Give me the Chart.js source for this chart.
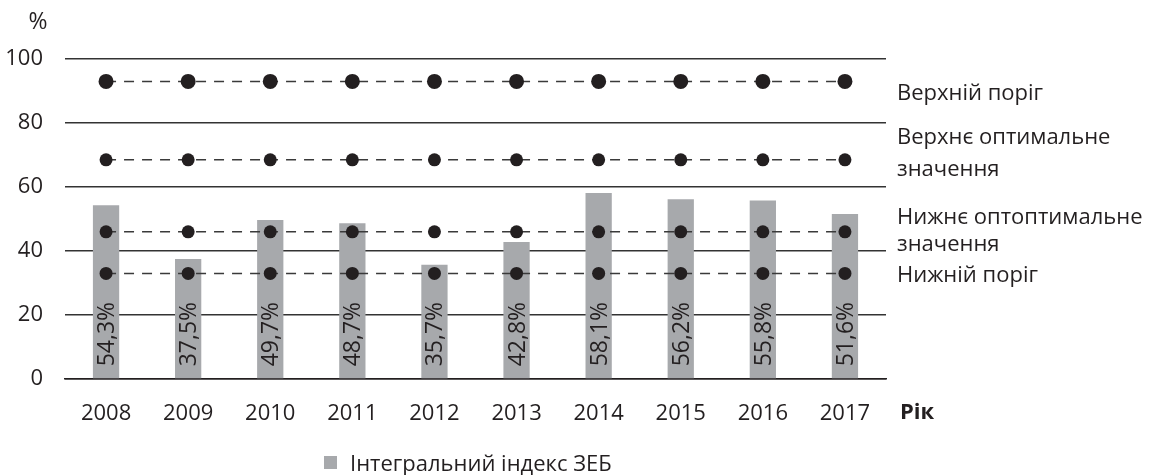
<!DOCTYPE html>
<html>
<head>
<meta charset="utf-8">
<script src="https://cdn.jsdelivr.net/npm/chart.js@4"></script>
<style>
  html, body { margin: 0; padding: 0; background: #fff; }
  #wrap { position: relative; width: 1152px; height: 475px; }
  #legend {
    position: absolute; left: 324px; top: 447px; height: 30px;
    font-family: "Open Sans", sans-serif; font-size: 22px; color: #231f20;
    display: flex; align-items: center;
  }
  #legend span.box { display: inline-block; width: 13px; height: 13px; background: #a7a9ac; margin-right: 13px; }
</style>
</head>
<body>
<div id="wrap">
  <canvas id="chart" width="1152" height="475"></canvas>
  <div id="legend"><span class="box"></span>Інтегральний індекс ЗЕБ</div>
</div>
<script>
const years = ['2008', '2009', '2010', '2011', '2012', '2013', '2014', '2015', '2016', '2017'];
const integralIndex = [54.3, 37.5, 49.7, 48.7, 35.7, 42.8, 58.1, 56.2, 55.8, 51.6];
const upperThreshold = [93, 93, 93, 93, 93, 93, 93, 93, 93, 93];
const upperOptimal = [68.5, 68.5, 68.5, 68.5, 68.5, 68.5, 68.5, 68.5, 68.5, 68.5];
const lowerOptimal = [46, 46, 46, 46, 46, 46, 46, 46, 46, 46];
const lowerThreshold = [33, 33, 33, 33, 33, 33, 33, 33, 33, 33];
const yTicks = [0, 20, 40, 60, 80, 100];

const FONT = '"Open Sans", sans-serif';
const INK = '#231f20';

// captions to the right of the plot
const sideNotes = ['Верхній поріг', 'Верхнє оптимальне', 'значення', 'Нижнє оптоптимальне', 'значення', 'Нижній поріг'];

function dashed(data, radius) {
  return {
    type: 'line',
    data: data,
    borderColor: '#3a3a3a',
    borderWidth: 1.5,
    borderDash: [10, 8],
    pointRadius: radius,
    pointBackgroundColor: INK,
    pointBorderColor: INK,
    pointBorderWidth: 0,
    fill: false,
    order: 1
  };
}

const extras = {
  id: 'extras',
  afterDatasetsDraw(chart) {
    const ctx = chart.ctx;
    const area = chart.chartArea;
    const y = chart.scales.y;
    ctx.save();
    ctx.fillStyle = INK;

    // rotated value labels in the bars
    const meta = chart.getDatasetMeta(0);
    ctx.font = '23px ' + FONT;
    ctx.textAlign = 'left';
    ctx.textBaseline = 'middle';
    meta.data.forEach((bar, i) => {
      ctx.save();
      ctx.translate(bar.x + 1.5, bar.base - 12);
      ctx.rotate(-Math.PI / 2);
      ctx.fillText(integralIndex[i].toFixed(1).replace('.', ',') + '%', 0, 0);
      ctx.restore();
    });

    // captions on the right
    ctx.font = '22px ' + FONT;
    const x0 = area.right + 11;
    ctx.fillText(sideNotes[0], x0, y.getPixelForValue(93) + 12);
    ctx.fillText(sideNotes[1], x0, y.getPixelForValue(80) + 15);
    ctx.fillText(sideNotes[2], x0, y.getPixelForValue(80) + 47);
    ctx.fillText(sideNotes[3], x0, y.getPixelForValue(60) + 31);
    ctx.fillText(sideNotes[4], x0, y.getPixelForValue(60) + 58);
    ctx.fillText(sideNotes[5], x0, y.getPixelForValue(33) + 2);

    // axis titles
    ctx.font = '23px ' + FONT;
    ctx.textAlign = 'center';
    ctx.fillText('%', 38, 22);
    ctx.font = 'bold 22px ' + FONT;
    ctx.textAlign = 'left';
    ctx.fillText('Рік', area.right + 14, 413);
    ctx.restore();
  }
};

new Chart(document.getElementById('chart'), {
  data: {
    labels: years,
    datasets: [
      {
        type: 'bar',
        label: 'Інтегральний індекс ЗЕБ',
        data: integralIndex,
        backgroundColor: '#a7a9ac',
        categoryPercentage: 1,
        barPercentage: 0.32,
        order: 2
      },
      Object.assign(dashed(upperThreshold, 7.5), { label: 'Верхній поріг' }),
      Object.assign(dashed(upperOptimal, 6.5), { label: 'Верхнє оптимальне значення' }),
      Object.assign(dashed(lowerOptimal, 6.5), { label: 'Нижнє оптимальне значення' }),
      Object.assign(dashed(lowerThreshold, 6.5), { label: 'Нижній поріг' })
    ]
  },
  options: {
    responsive: false,
    animation: false,
    layout: { padding: { left: 0, right: 266, top: 59, bottom: 0 } },
    plugins: {
      legend: { display: false },
      tooltip: { enabled: false }
    },
    scales: {
      x: {
        grid: { display: false, drawTicks: false },
        border: { color: INK, width: 1.5 },
        ticks: { color: INK, font: { family: FONT, size: 22 }, padding: 22 },
        afterFit: (s) => { s.height = 96; }
      },
      y: {
        min: 0,
        max: 100,
        afterBuildTicks: (axis) => { axis.ticks = yTicks.map(v => ({ value: v })); },
        grid: { color: '#333333', lineWidth: 1.4, drawTicks: false },
        border: { display: false },
        ticks: { color: INK, font: { family: FONT, size: 22 }, padding: 22 },
        afterFit: (s) => { s.width = 65; }
      }
    }
  },
  plugins: [extras]
});
</script>
</body>
</html>
